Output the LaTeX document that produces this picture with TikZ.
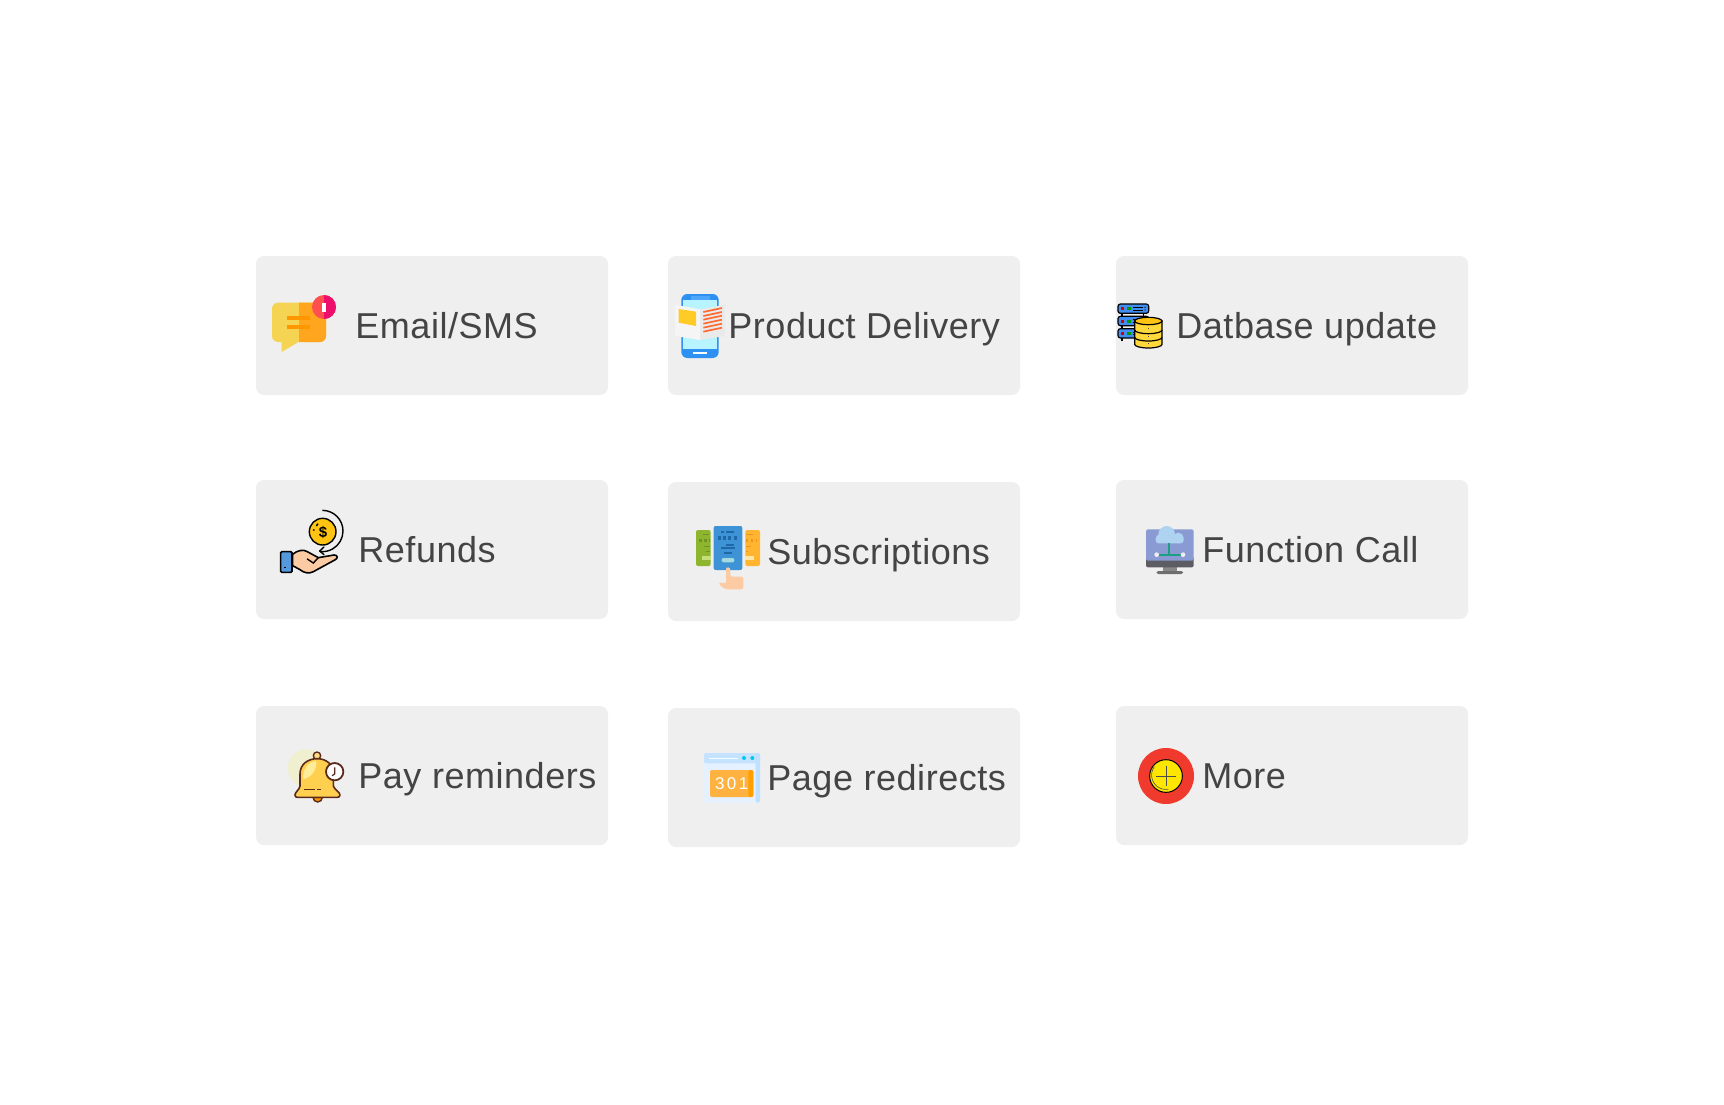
\documentclass[tikz,border=0pt]{standalone}
\usepackage{fontspec}
\setmainfont[LetterSpace=1.5]{Liberation Sans}
\usepackage{tikz}
\definecolor{cardgray}{HTML}{EFEFEF}
\definecolor{labelgray}{HTML}{444444}
\definecolor{bubbleyellow}{HTML}{F6D453}
\definecolor{bubbleorange}{HTML}{FFA51E}
\definecolor{barorange}{HTML}{FF9800}
\definecolor{badgered}{HTML}{FF4F4F}
\definecolor{badgepink}{HTML}{EE0E6B}
\definecolor{phoneblue}{HTML}{2E90F0}
\definecolor{notchblue}{HTML}{4DA6FA}
\definecolor{screenblue}{HTML}{B8F4FF}
\definecolor{pagelight}{HTML}{F5F5F5}
\definecolor{pagedark}{HTML}{EAEAEA}
\definecolor{photoyellow}{HTML}{FFCB27}
\definecolor{stripered}{HTML}{FF6A33}
\definecolor{serverblue}{HTML}{3F8EF0}
\definecolor{coinyellow}{HTML}{FFC312}
\definecolor{dbyellow}{HTML}{FFD83B}
\definecolor{skin}{HTML}{FDCBA3}
\definecolor{cuffblue}{HTML}{5599DD}
\definecolor{cardblue}{HTML}{3E93D6}
\definecolor{darkblue}{HTML}{1F68A8}
\definecolor{cardgreen}{HTML}{8DB52E}
\definecolor{cardorange}{HTML}{FFB52F}
\definecolor{buttongreen}{HTML}{C5DF7D}
\definecolor{buttonorange}{HTML}{FFE6A8}
\definecolor{buttonblue}{HTML}{A4D9DD}
\definecolor{dashgreen}{HTML}{6F9426}
\definecolor{dashorange}{HTML}{F0941E}
\definecolor{standgray}{HTML}{888888}
\definecolor{basegray}{HTML}{6E6E6E}
\definecolor{monitordark}{HTML}{5C5C62}
\definecolor{monitorblue}{HTML}{8A9BD4}
\definecolor{cloudblue}{HTML}{AED3F0}
\definecolor{linkgreen}{HTML}{1E9E82}
\definecolor{haloyellow}{HTML}{F0F0D0}
\definecolor{bellbrown}{HTML}{5A2A1E}
\definecolor{bellyellow}{HTML}{FFD04F}
\definecolor{bellshine}{HTML}{FFEC99}
\definecolor{bellloop}{HTML}{FFDC82}
\definecolor{windowlight}{HTML}{E5F1FF}
\definecolor{windowhead}{HTML}{C5E2FF}
\definecolor{windowside}{HTML}{BFE0FF}
\definecolor{dotcyan}{HTML}{00C8E8}
\definecolor{codeorange}{HTML}{FFB23F}
\definecolor{codedark}{HTML}{FFA000}
\definecolor{morered}{HTML}{EF3A2D}
\definecolor{moreyellow}{HTML}{FFE600}
\tikzset{
  cardbox/.style={fill=cardgray,rounded corners=4pt,minimum width=176pt,minimum height=69.5pt,inner sep=0pt},
  cardlabel/.style={anchor=base west,inner sep=0pt,text=labelgray,font=\fontsize{18}{20}\selectfont},
  iconat/.style={shift={#1},scale=1/3},
}
\begin{document}
\begin{tikzpicture}[x=0.5pt,y=-0.5pt]
\useasboundingbox (0,0) rectangle (1724,1104);
\node (emailbox) at (432,325.5) [cardbox]{};
\node (deliverybox) at (844,325.5) [cardbox]{};
\node (databasebox) at (1292,325.5) [cardbox]{};
\node (refundsbox) at (432,549.5) [cardbox]{};
\node (subscriptionsbox) at (844,551.5) [cardbox]{};
\node (functionbox) at (1292,549.5) [cardbox]{};
\node (remindersbox) at (432,775.5) [cardbox]{};
\node (redirectsbox) at (844,777.5) [cardbox]{};
\node (morebox) at (1292,775.5) [cardbox]{};
\node (emaillabel) at (355,338) [cardlabel]{Email/SMS};
\node (deliverylabel) at (728,338) [cardlabel]{Product Delivery};
\node (databaselabel) at (1176,338) [cardlabel]{Datbase update};
\node (refundslabel) at (358,562) [cardlabel]{Refunds};
\node (subscriptionslabel) at (767,564) [cardlabel]{Subscriptions};
\node (functionlabel) at (1202,562) [cardlabel]{Function Call};
\node (reminderslabel) at (358,788) [cardlabel]{Pay reminders};
\node (redirectslabel) at (767,790) [cardlabel]{Page redirects};
\node (morelabel) at (1202,788) [cardlabel]{More};
% email icon
\begin{scope}[iconat={(250,250)}]
\fill [bubbleyellow,rounded corners=3pt] (66,158) rectangle (228,276);
\fill [bubbleyellow] (95,270) -- (95,306) -- (145,276) -- cycle;
\fill [bubbleorange,rounded corners=3pt] (147,158) -- (228,158) -- (228,276) -- (147,276) [sharp corners] -- cycle;
\fill [bubbleorange] (147,158) rectangle (170,276);
\draw [barorange,line width=2pt] (111,203) -- (181,203);
\draw [barorange,line width=2pt] (111,231) -- (181,231);
\fill [badgered] (222,171) circle [radius=36];
\fill [badgepink] (222,135) arc [start angle=-90,end angle=90,radius=36] -- cycle;
\fill [white] (216,158) rectangle (228,186);
\end{scope}
% delivery icon
\begin{scope}[iconat={(660,250)}]
\fill [phoneblue,rounded corners=3pt] (64,132) rectangle (176,324);
\fill [screenblue] (70,150) rectangle (170,296);
\fill [notchblue] (92,138) rectangle (150,150);
\fill [white!85!screenblue] (100,306) rectangle (140,312);
\fill [pagelight] (45,164) -- (120,178) -- (120,270) -- (45,258) -- cycle;
\fill [pagedark] (120,178) -- (195,164) -- (195,258) -- (120,270) -- cycle;
\fill [photoyellow] (56,177) -- (108,185) -- (108,228) -- (56,218) -- cycle;
\foreach \y in {186,198,209,221,233,245}
  \draw [stripered,line width=0.85pt] (130,\y) -- (186,\y-12);
\end{scope}
% database icon
\begin{scope}[iconat={(1110,250)}]
\foreach \y in {162,199,236} {
  \draw [black,line width=0.6pt] (36,\y+28) -- (36,\y+38);
  \draw [black,line width=0.6pt] (100,\y+28) -- (100,\y+38);
  \draw [black,fill=serverblue,line width=0.6pt,rounded corners=1.2pt] (24,\y) rectangle (116,\y+28);
  \fill [red!80!black] (34,\y+10) rectangle (43,\y+19);
  \fill [green!60!black] (52,\y+10) rectangle (62,\y+19);
  \draw [black,line width=0.4pt] (70,\y+10) -- (98,\y+10);
  \draw [black,line width=0.4pt] (70,\y+18) -- (98,\y+18);
  \fill [black] (105,\y+10) circle [radius=2];
  \fill [black] (105,\y+18) circle [radius=2];
}
\draw [black,fill=dbyellow,line width=0.6pt] (74,213) -- (74,283) arc [start angle=180,end angle=0,x radius=41,y radius=11] -- (156,213) -- cycle;
\draw [black,fill=coinyellow,line width=0.6pt] (115,213) ellipse [x radius=41,y radius=11];
\draw [black,line width=0.6pt] (74,240) arc [start angle=180,end angle=0,x radius=41,y radius=11];
\draw [black,line width=0.6pt] (74,262) arc [start angle=180,end angle=0,x radius=41,y radius=11];
\foreach \y in {236,260,281}
  \fill [black!70] (113,\y-2) rectangle (117,\y+2);
\end{scope}
% refunds icon
\begin{scope}[iconat={(250,475)}]
\draw [black,line width=0.7pt,fill=coinyellow] (218,170) circle [radius=40];
\node (coinsign) at (219,171) [inner sep=0pt,font=\bfseries\fontsize{7.5}{8}\selectfont]{\$};
\draw [black,line width=0.7pt] (204,146) -- (199,153);
\draw [black,line width=0.7pt] (192,163) -- (191,167);
\draw [black,line width=0.7pt] (217,106) arc [start angle=-90,end angle=97,radius=62];
\draw [black,line width=0.7pt,line cap=round,line join=round] (222,216) -- (209,228) -- (222,239);
\draw [black,line width=0.8pt,fill=skin,line join=round] (128,238) .. controls (142,226) and (160,222) .. (172,230) -- (205,248) -- (252,240) .. controls (264,240) and (264,250) .. (256,254) -- (190,290) .. controls (175,298) and (160,292) .. (150,284) -- (128,272) -- cycle;
\draw [black,line width=0.7pt,line cap=round] (172,252) -- (190,264) -- (205,248);
\draw [black,line width=0.8pt,fill=cuffblue,rounded corners=0.6pt] (92,230) rectangle (126,292);
\fill [black] (103,276) rectangle (107,280);
\end{scope}
% subscriptions icon
\begin{scope}[iconat={(665,480)}]
\fill [cardgreen,rounded corners=1pt] (93,150) rectangle (137,258);
\fill [cardorange,rounded corners=1pt] (241,150) rectangle (285,258);
\fill [buttongreen] (110,228) rectangle (137,240);
\fill [buttonorange] (241,228) rectangle (268,240);
\draw [dashgreen,line width=0.8pt] (115,164) -- (133,164);
\draw [dashgreen,line width=1.2pt,dash pattern=on 1.2pt off 1.2pt] (103,182) -- (135,182);
\draw [dashgreen,line width=0.8pt] (116,200) -- (135,200);
\draw [dashgreen,line width=0.8pt] (122,214) -- (135,214);
\draw [dashorange,line width=0.8pt] (243,164) -- (265,164);
\draw [dashorange,line width=1.2pt,dash pattern=on 1.2pt off 1.2pt] (243,182) -- (275,182);
\draw [dashorange,line width=0.8pt] (243,200) -- (258,200);
\draw [dashorange,line width=0.8pt] (243,214) -- (250,214);
\fill [cardblue,rounded corners=1pt] (146,138) rectangle (232,270);
\fill [buttonblue,rounded corners=1pt] (170,234) rectangle (208,247);
\draw [darkblue,line width=1pt] (184,155) -- (208,155);
\draw [darkblue,line width=1pt] (168,155) -- (176,155);
\draw [darkblue,line width=1.6pt,dash pattern=on 1.5pt off 1.2pt] (158,174) -- (220,174);
\draw [darkblue,line width=1pt] (184,194) -- (208,194);
\draw [darkblue,line width=1pt] (168,205) -- (210,205);
\draw [darkblue,line width=1pt] (176,218) -- (202,218);
\fill [skin,rounded corners=1.2pt] (183,268) -- (183,262) -- (196,262) -- (196,290) -- (235,290) -- (235,328) -- (182,328) -- (160,312) -- (168,306) -- (183,312) -- cycle;
\end{scope}
% function icon
\begin{scope}[iconat={(1115,480)}]
\fill [standgray] (145,262) rectangle (185,273);
\fill [basegray,rounded corners=1pt] (125,273) rectangle (204,282);
\fill [monitordark,rounded corners=1pt] (93,230) rectangle (236,262);
\fill [monitorblue,rounded corners=1pt] (93,148) -- (236,148) -- (236,242) -- (93,242) -- cycle;
\fill [cloudblue] (155,163) circle [radius=25];
\fill [cloudblue] (135,176) circle [radius=13];
\fill [cloudblue] (190,174) circle [radius=16];
\fill [cloudblue,rounded corners=1.5pt] (122,170) rectangle (206,190);
\draw [linkgreen,line width=0.9pt] (163,190) -- (163,224);
\draw [linkgreen,line width=0.9pt] (125,224) -- (204,224);
\fill [cardgray] (125,224) circle [radius=7];
\fill [cardgray] (204,224) circle [radius=7];
\end{scope}
% reminders icon
\begin{scope}[iconat={(250,700)}]
\fill [haloyellow] (170,205) circle [radius=57];
\draw [bellbrown,line width=0.7pt,fill=barorange] (189,292) arc [start angle=180,end angle=0,x radius=14,y radius=14] -- cycle;
\draw [bellbrown,line width=0.7pt,fill=bellloop] (201,167) circle [radius=11];
\draw [bellbrown,line width=0.8pt,fill=bellyellow,line join=round] (150,258) -- (150,222) .. controls (150,192) and (175,176) .. (201,176) .. controls (228,176) and (250,192) .. (250,222) -- (250,258) .. controls (254,270) and (270,276) .. (270,285) .. controls (270,290) and (266,292) .. (262,292) -- (142,292) .. controls (138,292) and (135,290) .. (135,285) .. controls (135,276) and (148,270) .. (150,258) -- cycle;
\fill [bellshine] (160,238) .. controls (156,208) and (175,186) .. (198,183) .. controls (203,205) and (188,230) .. (160,238) -- cycle;
\draw [bellbrown,line width=0.8pt] (163,268) -- (195,268);
\draw [bellbrown,line width=0.8pt] (202,268) -- (212,268);
\draw [bellbrown,line width=0.9pt,fill=white] (254,215) circle [radius=26];
\draw [bellbrown,line width=0.6pt] (254,202) -- (254,222) -- (246,227);
\end{scope}
% redirects icon
\begin{scope}[iconat={(665,705)}]
\fill [windowlight,rounded corners=1pt] (117,144) rectangle (285,293);
\fill [windowhead,rounded corners=1pt] (117,144) rectangle (285,175);
\fill [windowside,rounded corners=1pt] (272,144) rectangle (285,293);
\draw [white!80!screenblue,line width=0.5pt] (131,159) -- (218,159);
\fill [dotcyan] (237,159) circle [radius=6];
\fill [dotcyan] (262,159) circle [radius=6];
\fill [codeorange,rounded corners=1pt] (135,195) rectangle (265,276);
\fill [codedark,rounded corners=1pt] (250,195) rectangle (265,276);
\node (redirectcode) at (200,237) [inner sep=0pt,text=white,font=\fontsize{8.5}{10}\selectfont]{\addfontfeature{LetterSpace=14}301};
\end{scope}
% more icon
\begin{scope}[iconat={(1115,700)}]
\fill [morered] (153,228) circle [radius=84];
\draw [black,line width=0.5pt,fill=moreyellow] (153,228) circle [radius=49];
\draw [black!70,line width=0.5pt] (153,198) -- (153,258);
\draw [black!70,line width=0.5pt] (123,228) -- (183,228);
\draw [black!70,line width=0.3pt] (118,200) arc [start angle=-144,end angle=-280,radius=43];
\end{scope}
\end{tikzpicture}
\end{document}
